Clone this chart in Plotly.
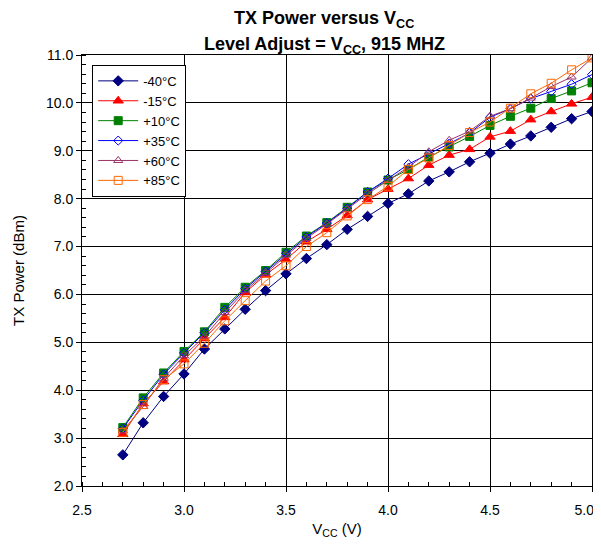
import plotly.graph_objects as go

vcc = [2.7, 2.8, 2.9, 3.0, 3.1, 3.2, 3.3, 3.4, 3.5, 3.6, 3.7, 3.8,
       3.9, 4.0, 4.1, 4.2, 4.3, 4.4, 4.5, 4.6, 4.7, 4.8, 4.9, 5.0]

p_m40 = [2.65, 3.32, 3.87, 4.34, 4.86, 5.28, 5.69, 6.08, 6.43, 6.75, 7.04, 7.36,
         7.63, 7.90, 8.10, 8.37, 8.56, 8.77, 8.95, 9.14, 9.31, 9.49, 9.67, 9.82]
p_m15 = [3.08, 3.72, 4.18, 4.64, 5.08, 5.52, 6.04, 6.41, 6.73, 7.10, 7.36, 7.65,
         7.98, 8.20, 8.42, 8.70, 8.91, 9.03, 9.29, 9.41, 9.65, 9.82, 9.98, 10.12]
p_p10 = [3.22, 3.84, 4.36, 4.81, 5.22, 5.73, 6.15, 6.50, 6.88, 7.22, 7.50, 7.82,
         8.14, 8.39, 8.61, 8.87, 9.08, 9.30, 9.53, 9.72, 9.89, 10.09, 10.25, 10.42]
p_p35 = [3.20, 3.79, 4.33, 4.78, 5.20, 5.68, 6.12, 6.48, 6.86, 7.20, 7.49, 7.80,
         8.14, 8.42, 8.72, 8.93, 9.15, 9.37, 9.70, 9.88, 10.09, 10.24, 10.39, 10.59]
p_p60 = [3.15, 3.66, 4.25, 4.72, 5.12, 5.62, 6.08, 6.45, 6.82, 7.17, 7.47, 7.78,
         8.10, 8.38, 8.66, 8.98, 9.22, 9.41, 9.72, 9.88, 10.10, 10.34, 10.54, 10.94]
p_p85 = [3.12, 3.70, 4.22, 4.55, 4.98, 5.45, 5.87, 6.28, 6.60, 7.00, 7.29, 7.64,
         7.98, 8.26, 8.61, 8.85, 9.11, 9.38, 9.60, 9.89, 10.19, 10.41, 10.69, 10.94]

x_tickvals = [2.5, 3.0, 3.5, 4.0, 4.5, 5.0]
# the last label is padded with no-break spaces so it stays inside the window
x_ticktext = ["2.5", "3.0", "3.5", "4.0", "4.5", "5.0\u00a0\u00a0\u00a0\u00a0"]

names = ["-40°C", "-15°C", "+10°C", "+35°C", "+60°C", "+85°C"]
series = [p_m40, p_m15, p_p10, p_p35, p_p60, p_p85]
colors = ["#000080", "#FF0000", "#008000", "#0000FF", "#993366", "#FF6600"]
symbols = ["diamond", "triangle-up", "square", "diamond-open", "triangle-up-open", "square-open"]
sizes = [8, 9, 8, 7, 8, 8]

fig = go.Figure()
for n, s, c, sym, sz in zip(names, series, colors, symbols, sizes):
    fig.add_trace(go.Scatter(
        x=vcc, y=s, name=n, mode="lines+markers",
        line=dict(color=c, width=1),
        marker=dict(symbol=sym, size=sz, color=c, line=dict(color=c, width=1)),
    ))

title_font = dict(size=18, family="Liberation Sans, Arial, sans-serif", color="black")
fig.add_annotation(text="<b>TX Power versus V<sub>CC</sub></b>", xref="paper", yref="paper",
                   x=0.475, y=1.083, xanchor="center", yanchor="middle",
                   showarrow=False, font=title_font)
fig.add_annotation(text="<b>Level Adjust = V<sub>CC</sub>, 915 MHZ</b>", xref="paper", yref="paper",
                   x=0.475, y=1.022, xanchor="center", yanchor="middle",
                   showarrow=False, font=title_font)

# page body has an 8px default margin; size the figure so the page does not scroll
fig.update_layout(
    width=593, height=532,
    margin=dict(l=74, r=9, t=47, b=54),
    paper_bgcolor="white", plot_bgcolor="white",
    font=dict(family="Liberation Sans, Arial, sans-serif", size=14, color="black"),
    showlegend=True,
    legend=dict(
        x=0.02, y=0.977, xanchor="left", yanchor="top",
        bgcolor="white", bordercolor="black", borderwidth=1,
        font=dict(size=13), tracegroupgap=0, itemwidth=40,
    ),
)
fig.update_xaxes(
    range=[2.5, 5.0], tickmode="array", tickvals=x_tickvals, ticktext=x_ticktext,
    automargin=False, ticklabeloverflow="allow", ticklabelstandoff=6,
    showgrid=True, gridcolor="black", gridwidth=1,
    showline=True, linecolor="black", linewidth=1, mirror=True,
    ticks="outside", ticklen=5, tickcolor="black",
    minor=dict(dtick=0.1, ticks="inside", ticklen=4, tickcolor="black", showgrid=False),
    zeroline=False,
    title=dict(text="V<sub>CC</sub> (V)", font=dict(size=15), standoff=6),
    tickfont=dict(size=14),
)
fig.update_yaxes(
    range=[2.0, 11.0], dtick=1.0, tickformat=".1f", automargin=False,
    showgrid=True, gridcolor="black", gridwidth=1,
    showline=True, linecolor="black", linewidth=1, mirror=True,
    ticks="outside", ticklen=5, tickcolor="black",
    minor=dict(dtick=0.2, ticks="inside", ticklen=4, tickcolor="black", showgrid=False),
    zeroline=False,
    title=dict(text="TX Power (dBm)", font=dict(size=15), standoff=17),
    tickfont=dict(size=14),
)

fig.write_html("out.html")
